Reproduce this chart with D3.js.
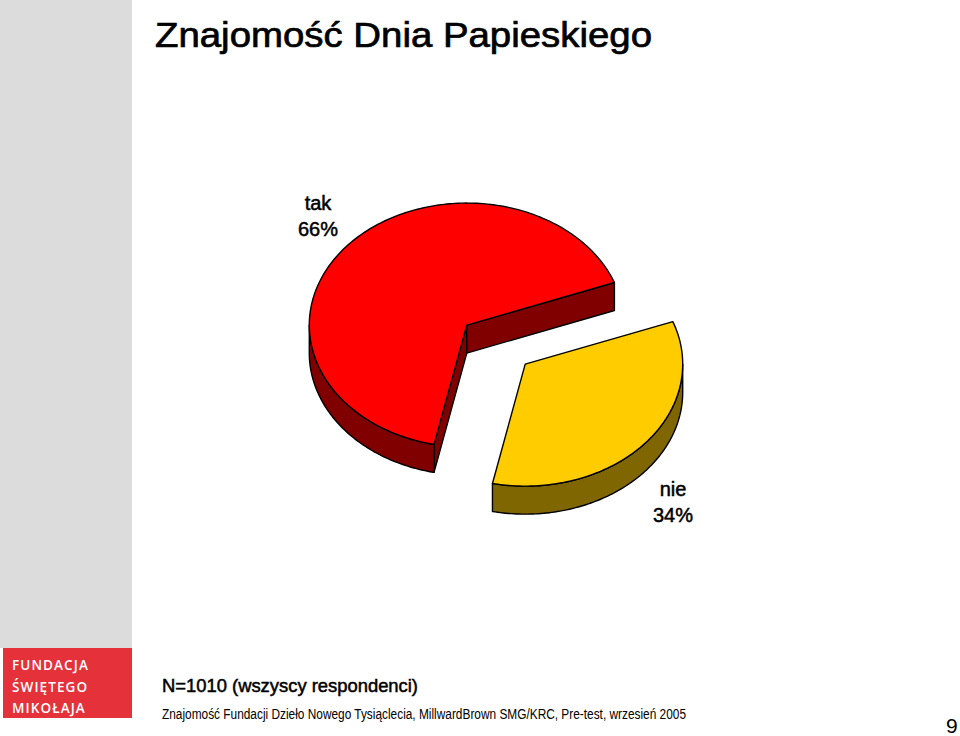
<!DOCTYPE html>
<html><head><meta charset="utf-8">
<script src="https://cdn.jsdelivr.net/npm/d3@7"></script>
<style>body{margin:0;background:#fff}svg{display:block}</style>
</head><body>
<svg id="c" width="960" height="736"></svg>
<script>
const categories = ["tak", "nie"];
const values = [66, 34];
const valueLabels = ["66%", "34%"];
const topColors = ["#ff0000", "#ffcc00"];
const sideColors = ["#800000", "#806600"];
const explodes = [0.24, 0.25];
const title = "Znajomość Dnia Papieskiego";
const noteN = "N=1010 (wszyscy respondenci)";
const source = "Znajomość Fundacji Dzieło Nowego Tysiąclecia, MillwardBrown SMG/KRC, Pre-test, wrzesień 2005";
const logoLines = ["FUNDACJA", "ŚWIĘTEGO", "MIKOŁAJA"];

const svg = d3.select("#c");
const font = "'Liberation Sans', Arial, Helvetica, sans-serif";

// sidebar + logo
svg.append("rect").attr("x",0).attr("y",0).attr("width",132).attr("height",648).attr("fill","#dcdcdc");
svg.append("rect").attr("x",3).attr("y",648).attr("width",129).attr("height",70).attr("fill","#e5313a");
svg.selectAll("text.logo").data(logoLines).join("text").attr("class","logo")
  .attr("x",12).attr("y",(d,i)=>670+i*21.5)
  .attr("font-family","'Open Sans', "+font).attr("font-weight","600").attr("font-size",13.5)
  .attr("letter-spacing",1.1).attr("fill","#fff").text(d=>d);

// title
svg.append("text").attr("x",155).attr("y",47).attr("font-family",font).attr("font-size",35)
  .attr("stroke","#000").attr("stroke-width",0.7)
  .attr("textLength",497).attr("lengthAdjust","spacingAndGlyphs").attr("fill","#000").text(title);

// 3D pie
const rx = 157.5, ry = 122, depth = 28, cx0 = 495.4, cy0 = 344.2;
const deg = Math.PI/180;
const startA = 192*deg;
const pie = d3.pie().sort(null).startAngle(startA).endAngle(startA + 2*Math.PI);
const arcs = pie(values);
const xs = d3.scaleLinear().domain([-1,1]).range([-rx, rx]);
const ys = d3.scaleLinear().domain([-1,1]).range([-ry, ry]);
const toT = a => a - Math.PI/2;
const slices = arcs.map((a,i)=>{
  const mid = toT((a.startAngle + a.endAngle)/2);
  const cx = cx0 + xs(explodes[i]*Math.cos(mid)), cy = cy0 + ys(explodes[i]*Math.sin(mid));
  return {i, t0: toT(a.startAngle), t1: toT(a.endAngle), cx, cy};
});
function pt(s, t, dz){ return [s.cx + xs(Math.cos(t)), s.cy + ys(Math.sin(t)) + (dz||0)]; }
function arcPts(s, ta, tb, dz){
  const n = Math.max(2, Math.ceil(Math.abs(tb-ta)/(1*deg)));
  return d3.range(n+1).map(k => pt(s, ta + (tb-ta)*k/n, dz));
}
const line = d3.line();
const g = svg.append("g").attr("stroke","#000").attr("stroke-width",1.4).attr("stroke-linejoin","round");

// walls
slices.forEach(s=>{
  const faces = [];
  if (Math.cos(s.t0) < 0) faces.push([[s.cx,s.cy], pt(s,s.t0), pt(s,s.t0,depth), [s.cx,s.cy+depth]]);
  if (Math.cos(s.t1) > 0) faces.push([[s.cx,s.cy], pt(s,s.t1), pt(s,s.t1,depth), [s.cx,s.cy+depth]]);
  faces.forEach(f=> g.append("path").attr("d", line(f)+"Z").attr("fill", sideColors[s.i]));
  for (let k=-1;k<=2;k++){
    const a = Math.max(s.t0, 2*Math.PI*k), b = Math.min(s.t1, 2*Math.PI*k + Math.PI);
    if (b > a) {
      const p = arcPts(s,a,b,0).concat(arcPts(s,b,a,depth));
      g.append("path").attr("d", line(p)+"Z").attr("fill", sideColors[s.i]);
    }
  }
});
// tops
slices.forEach(s=>{
  const p = [[s.cx,s.cy]].concat(arcPts(s,s.t0,s.t1,0));
  g.append("path").attr("d", line(p)+"Z").attr("fill", topColors[s.i]);
});

// labels
const labelPos = [[318,210],[673,496]];
categories.forEach((c,i)=>{
  const t = svg.append("text").attr("font-family",font).attr("font-size",20).attr("text-anchor","middle")
    .attr("fill","#000").attr("stroke","#000").attr("stroke-width",0.5);
  t.append("tspan").attr("x",labelPos[i][0]).attr("y",labelPos[i][1]).text(c);
  t.append("tspan").attr("x",labelPos[i][0]).attr("y",labelPos[i][1]+26).text(valueLabels[i]);
});

// notes
svg.append("text").attr("x",162).attr("y",692).attr("font-family",font).attr("font-size",18.5)
  .attr("stroke","#000").attr("stroke-width",0.5)
  .attr("textLength",256).attr("lengthAdjust","spacingAndGlyphs").text(noteN);
svg.append("text").attr("x",162).attr("y",719).attr("font-family",font).attr("font-size",14)
  .attr("textLength",524).attr("lengthAdjust","spacingAndGlyphs").text(source);
svg.append("text").attr("x",946).attr("y",733).attr("font-family",font).attr("font-size",21).text("9");
</script>
</body></html>
